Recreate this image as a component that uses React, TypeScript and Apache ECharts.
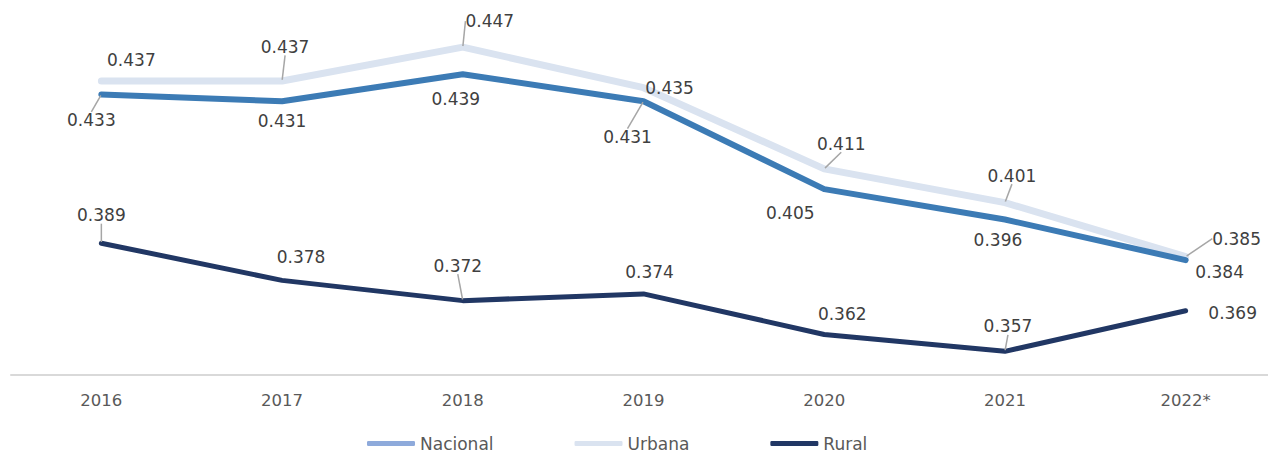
import React, { useEffect, useRef } from "react";
import * as echarts from "echarts";

const categories = ["2016", "2017", "2018", "2019", "2020", "2021", "2022*"];
const nacional = [0.433, 0.431, 0.439, 0.431, 0.405, 0.396, 0.384];
const urbana = [0.437, 0.437, 0.447, 0.435, 0.411, 0.401, 0.385];
const rural = [0.389, 0.378, 0.372, 0.374, 0.362, 0.357, 0.369];

// label layout (offset of label centre from point) and leader-line flags
const nacOffsets = [[-10, 26], [0, 20], [-7, 25], [-16, 36], [-34, 24], [-7, 20], [34, 12]];
const urbOffsets = [[30, -21], [3, -34], [27, -26], [26, 0], [17, -25], [7, -27], [51, -18]];
const rurOffsets = [[0, -28], [19, -23], [-5, -35], [6, -22], [18, -20], [3, -25], [47, 2]];
const nacLeader = [true, false, false, true, false, false, false];
const urbLeader = [false, true, true, false, true, true, true];
const rurLeader = [true, false, true, false, false, true, false];

const FONT = "DejaVu Sans";

function buildData(values: number[], leader: boolean[]) {
  return values.map((v, i) => ({ value: v, labelLine: { show: leader[i] } }));
}

function makeSeries(name: string, values: number[], leader: boolean[], offsets: number[][], color: string, width: number, z: number) {
  return {
    name,
    type: "line",
    data: buildData(values, leader),
    z,
    symbol: "circle",
    symbolSize: 2,
    showSymbol: true,
    itemStyle: { color },
    lineStyle: { color, width, cap: "round", join: "round" },
    label: {
      show: true,
      position: "inside",
      color: "#404040",
      fontFamily: FONT,
      fontSize: 17,
      formatter: (p: any) => p.value.toFixed(3),
    },
    labelLine: { show: false, lineStyle: { color: "#a6a6a6", width: 1.5 } },
    labelLayout: (p: any) => ({ dx: offsets[p.dataIndex][0], dy: offsets[p.dataIndex][1] }),
  };
}

export default function App() {
  const ref = useRef<HTMLDivElement>(null);
  useEffect(() => {
    document.body.style.margin = "0";
    const chart = echarts.init(ref.current!, null, { renderer: "svg" });
    chart.setOption({
      animation: false,
      backgroundColor: "#ffffff",
      grid: { left: 11, width: 1265, top: 37, bottom: 77 },
      legend: {
        left: 362,
        top: 430,
        padding: [5, 5, 0, 5],
        icon: "roundRect",
        itemWidth: 48,
        itemHeight: 5,
        itemGap: 81,
        textStyle: { color: "#595959", fontFamily: FONT, fontSize: 17 },
        data: [
          { name: "Nacional", itemStyle: { color: "#8eaadb" } },
          { name: "Urbana", itemStyle: { color: "#dae3f0" } },
          { name: "Rural", itemStyle: { color: "#213764" } },
        ],
      },
      xAxis: {
        type: "category",
        data: categories,
        boundaryGap: true,
        axisLine: { lineStyle: { color: "#d9d9d9", width: 2 } },
        axisTick: { show: false },
        axisLabel: { color: "#595959", fontFamily: FONT, fontSize: 16.5, margin: 17 },
      },
      yAxis: {
        type: "value",
        min: 0.35,
        max: 0.45,
        show: false,
        splitLine: { show: false },
      },
      series: [
        makeSeries("Nacional", nacional, nacLeader, nacOffsets, "#3c7bb5", 6, 3),
        makeSeries("Urbana", urbana, urbLeader, urbOffsets, "#dae3f0", 7, 2),
        makeSeries("Rural", rural, rurLeader, rurOffsets, "#213764", 5, 3),
      ],
    });
    return () => chart.dispose();
  }, []);
  return (
    <div style={{ width: 1268, height: 452, overflow: "hidden" }}>
      <div ref={ref} style={{ width: 1280, height: 452 }} />
    </div>
  );
}
